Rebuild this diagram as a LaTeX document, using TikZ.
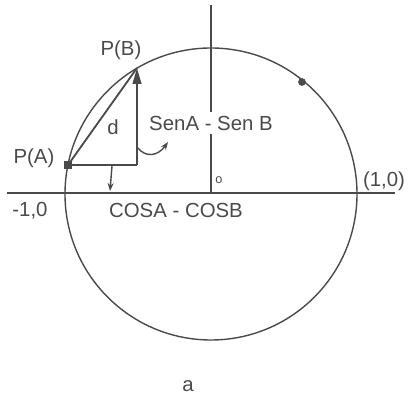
\documentclass[tikz,border=0pt]{standalone}
\usepackage{fontspec}
\setsansfont{Liberation Sans}
\usetikzlibrary{arrows.meta, positioning, calc}
\definecolor{ink}{HTML}{4A4A4A}
\tikzset{
  axis/.style={draw=ink, line width=1.5pt},
  ring/.style={draw=ink, line width=1pt},
  leg/.style={draw=ink, line width=1.3pt},
  lbl/.style={text=ink, font=\sffamily\fontsize{14.5}{16}\selectfont, inner sep=1pt},
  arrow/.style={-{Stealth[length=2mm]}, draw=ink, line width=1pt},
  dotmark/.style={circle, fill=ink, inner sep=0pt, minimum size=5.5pt},
  boxmark/.style={rectangle, fill=ink, inner sep=0pt, minimum size=5pt}
}
\begin{document}
\begin{tikzpicture}[x=0.25mm, y=-0.25mm]
    \useasboundingbox (0,0) rectangle (408,398);

    % points
    \coordinate (O) at (211,194);
    \coordinate (PA) at (68,165);
    \coordinate (PB) at (137,68);
    \coordinate (C) at (137,165);

    % axes and circle
    \draw[axis] (7,193) -- (395,193);
    \draw[axis] (211,5) -- (O);
    \draw[ring] (O) circle (146);
    \node[dotmark] (Q) at (302,82) {};

    % triangle
    \draw[leg] (PA) -- (C);
    \draw[leg, -{Triangle[length=4mm, width=2.2mm]}] (C) -- (PB);
    \draw[leg] (PA) -- (PB);
    \node[boxmark] (pa) at (PA) {};

    % labels
    \node[lbl] (lpb) at (121,50) {P(B)};
    \node[lbl] (lpa) at (34,158) {P(A)};
    \node[lbl] (ld) at (113,127) {d};
    \node[lbl, fill=white, inner sep=3pt] (lsin) at (211,123) {SenA - Sen B};
    \node[lbl] (lcos) at (176,210) {COSA - COSB};
    \node[lbl] (lm1) at (30,211) {-1,0};
    \node[lbl] (lp1) at (384,181) {(1,0)};
    \node[lbl, font=\sffamily\small] (lo) at (219,180) {o};
    \node[lbl] (la) at (188,386) {a};

    % pointers
    \coordinate (s1) at (138,148);
    \coordinate (s2) at (168,142);
    \draw[arrow] (s1) .. controls (146,158) and (158,156) .. (s2);
    \coordinate (c1) at (112,166);
    \coordinate (c2) at (110,191);
    \draw[arrow] (c1) -- (c2);
\end{tikzpicture}
\end{document}
